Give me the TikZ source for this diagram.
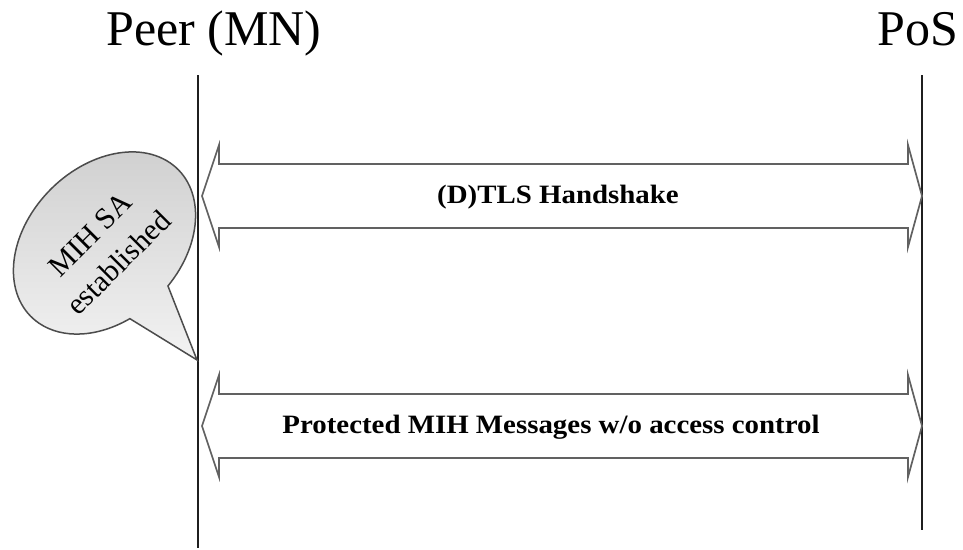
\documentclass[tikz,border=0pt]{standalone}
\usepackage{fontspec}
\setmainfont{Liberation Serif}
\begin{document}
\begin{tikzpicture}[x=1pt, y=-1pt,
  lifeline/.style={line width=2.4pt, draw=black!88},
  header/.style={anchor=base, inner sep=0pt, font=\fontsize{50}{56}\selectfont},
  msgbox/.style={draw=black!62, line width=1.7pt, line join=miter, fill=white},
  msglabel/.style={inner sep=0pt, xscale=1.09, transform shape,
    font=\fontsize{26.5}{30}\selectfont\bfseries},
  callout/.style={draw=black!70, line width=1.5pt, top color=black!19, bottom color=black!5},
  calloutlabel/.style={inner sep=0pt, align=center, transform shape,
    font=\fontsize{30}{40}\selectfont}]
\useasboundingbox (0,0) rectangle (963,549);

% participants
\node[header] (peer) at (214,45) {Peer (MN)};
\node[header] (pos)  at (918,45) {PoS};

% lifelines
\coordinate (peerTop) at (198,75);
\coordinate (peerBot) at (198,548);
\coordinate (posTop)  at (922,75);
\coordinate (posBot)  at (922,530);
\draw[lifeline] (peerTop) -- (peerBot);
\draw[lifeline] (posTop) -- (posBot);

% block arrow: (D)TLS handshake
\draw[msgbox] (202,196) -- (219,145) -- (219,164) -- (908,164) -- (908,145)
  -- (922,196) -- (908,247) -- (908,228) -- (219,228) -- (219,247) -- cycle;
\node[msglabel] (hs) at (558,197) {(D)TLS Handshake};

% block arrow: protected messages
\draw[msgbox] (202,426) -- (219,375) -- (219,394) -- (908,394) -- (908,375)
  -- (922,426) -- (908,477) -- (908,458) -- (219,458) -- (219,477) -- cycle;
\node[msglabel] (pm) at (551,427) {Protected MIH Messages w/o access control};

% speech bubble pointing at the peer lifeline
\begin{scope}[shift={(104.5,243)}, rotate=45]
  \path[callout] (-82:104pt and 76pt)
    arc[start angle=-82, end angle=250, x radius=104pt, y radius=76pt]
    -- (-17.3pt,-148.1pt) -- cycle;
  \node[calloutlabel] (sa) at (-4pt,-4pt) {MIH SA\\established};
\end{scope}
\end{tikzpicture}
\end{document}
